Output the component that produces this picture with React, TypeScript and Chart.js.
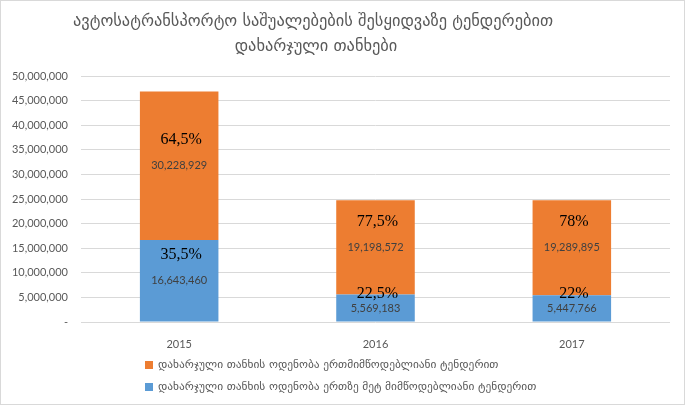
import { useEffect, useRef } from "react";
import Chart from "chart.js/auto";

const years = ["2015", "2016", "2017"];
const multiSupplier = [16643460, 5569183, 5447766];
const singleSupplier = [30228929, 19198572, 19289895];
const multiShare = ["35,5%", "22,5%", "22%"];
const singleShare = ["64,5%", "77,5%", "78%"];

const titleLines = [
  "ავტოსატრანსპორტო საშუალებების შესყიდვაზე ტენდერებით",
  "დახარჯული თანხები",
];
const singleLabel = "დახარჯული თანხის ოდენობა ერთმიმწოდებლიანი ტენდერით";
const multiLabel = "დახარჯული თანხის ოდენობა ერთზე მეტ მიმწოდებლიანი ტენდერით";

const GRAY = "#595959";
const ORANGE = "#ED7D31";
const BLUE = "#5B9BD5";

const shares = [multiShare, singleShare];

const decorPlugin = {
  id: "decor",
  afterDatasetsDraw(chart: any) {
    const ctx = chart.ctx;
    ctx.save();
    ctx.textAlign = "center";
    ctx.textBaseline = "middle";
    chart.data.datasets.forEach((ds: any, i: number) => {
      const meta = chart.getDatasetMeta(i);
      meta.data.forEach((bar: any, j: number) => {
        const top = Math.min(bar.y, bar.base);
        const mid = (bar.y + bar.base) / 2;
        ctx.font = "11px Lato";
        ctx.fillStyle = "#404040";
        ctx.fillText(Number(ds.data[j]).toLocaleString("en-US"), bar.x, mid);
        ctx.font = "16px 'Liberation Serif'";
        ctx.fillStyle = "#000";
        ctx.fillText(shares[i][j], bar.x + 2, Math.max(mid - 26, top - 1));
      });
    });
    ctx.restore();
  },
  afterDraw(chart: any) {
    const ctx = chart.ctx;
    ctx.save();
    // title
    ctx.fillStyle = GRAY;
    ctx.textAlign = "center";
    ctx.textBaseline = "middle";
    ctx.font = "16.4px 'DejaVu Sans'";
    ctx.fillText(titleLines[0], 312, 21);
    ctx.fillText(titleLines[1], 315, 46);
    // legend
    ctx.textAlign = "left";
    ctx.font = "11.4px 'DejaVu Sans'";
    const items = [
      { label: singleLabel, color: ORANGE, y: 364 },
      { label: multiLabel, color: BLUE, y: 386 },
    ];
    items.forEach((it) => {
      ctx.fillStyle = it.color;
      ctx.fillRect(144, it.y - 4, 8, 8);
      ctx.fillStyle = GRAY;
      ctx.fillText(it.label, 157, it.y);
    });
    ctx.restore();
  },
};

export default function App() {
  const canvasRef = useRef<HTMLCanvasElement>(null);

  useEffect(() => {
    document.body.style.margin = "0";
    if (!canvasRef.current) return;
    const chart = new Chart(canvasRef.current, {
      type: "bar",
      data: {
        labels: years,
        datasets: [
          { label: multiLabel, data: multiSupplier, backgroundColor: BLUE },
          { label: singleLabel, data: singleSupplier, backgroundColor: ORANGE },
        ],
      },
      options: {
        responsive: false,
        animation: false,
        layout: { padding: { top: 75, right: 14, bottom: 52, left: 0 } },
        datasets: { bar: { categoryPercentage: 1, barPercentage: 0.4 } },
        plugins: {
          legend: { display: false },
          title: { display: false },
          tooltip: { enabled: false },
        },
        scales: {
          x: {
            stacked: true,
            grid: { display: false },
            border: { display: false },
            ticks: { color: GRAY, font: { family: "Lato", size: 11 }, padding: 8 },
            afterFit: (s: any) => {
              s.height = 30;
            },
          },
          y: {
            stacked: true,
            min: 0,
            max: 50000000,
            grid: { color: "#d9d9d9", drawTicks: false },
            border: { display: false },
            ticks: {
              stepSize: 5000000,
              color: GRAY,
              font: { family: "Lato", size: 11 },
              padding: 13,
              callback: (v: any) => (v === 0 ? "-" : Number(v).toLocaleString("en-US")),
            },
            afterFit: (s: any) => {
              s.width = 80;
            },
          },
        },
      },
      plugins: [decorPlugin],
    });
    return () => chart.destroy();
  }, []);

  return (
    <div
      style={{
        position: "absolute",
        left: 0,
        top: 0,
        width: 685,
        height: 405,
        boxSizing: "border-box",
        border: "1px solid #d9d9d9",
        background: "#fff",
      }}
    >
      <canvas ref={canvasRef} width={683} height={403} style={{ display: "block" }} />
    </div>
  );
}
